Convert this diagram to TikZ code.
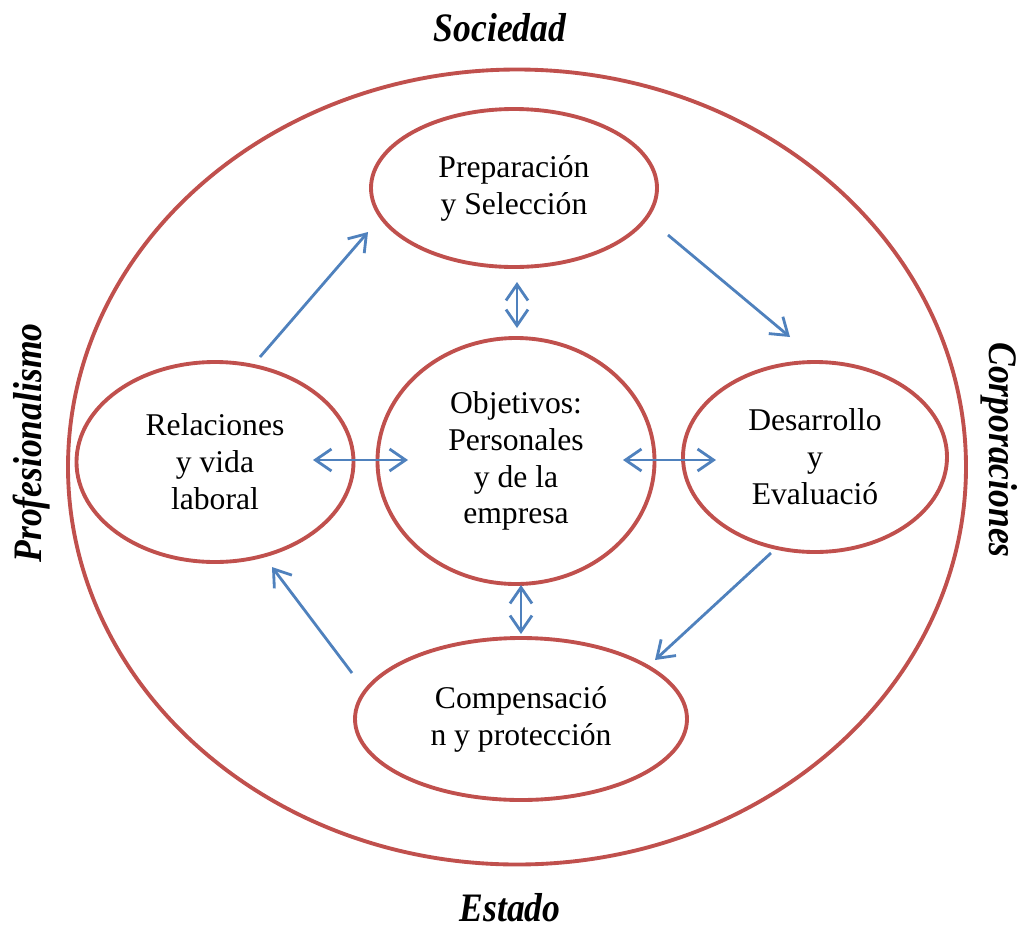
\documentclass[tikz,border=0pt]{standalone}
\usepackage{fontspec}
\setmainfont{Liberation Serif}
\newfontfamily\sidefont[FakeStretch=0.88]{Liberation Serif}
\usetikzlibrary{shapes.geometric,arrows.meta}
\definecolor{ringred}{RGB}{192,80,77}
\definecolor{flowblue}{RGB}{79,129,189}
\begin{document}
\begin{tikzpicture}[
    stage/.style={
        ellipse,
        draw=ringred,
        line width=2.2pt,
        inner sep=0pt,
        align=center,
        font=\fontsize{18}{21}\selectfont
    },
    flow/.style={
        -{Straight Barb[length=3.2mm,width=4.4mm,line width=1.6pt]},
        draw=flowblue,
        line width=1.6pt
    },
    both/.style={
        {Straight Barb[length=3.2mm,width=4.4mm,line width=1.6pt]}-{Straight Barb[length=3.2mm,width=4.4mm,line width=1.6pt]},
        draw=flowblue,
        line width=1.6pt
    },
    side/.style={
        font=\sidefont\bfseries\itshape\fontsize{23}{26}\selectfont
    }
]
\useasboundingbox (0,0) rectangle (20.34,-18.58);

% Outer ring
\node [stage, minimum width=17.96cm, minimum height=15.90cm] (outer) at (10.34,-9.34) {};

% Stages
\node [stage, minimum width=5.72cm, minimum height=3.16cm] (prep) at (10.28,-3.76) {Preparación\\y Selección};
\node [stage, minimum width=5.54cm, minimum height=4.92cm] (obj) at (10.32,-9.22) {Objetivos:\\Personales\\y de la\\empresa};
\node [stage, minimum width=5.54cm, minimum height=4.00cm] (rel) at (4.30,-9.24) {Relaciones\\y vida\\laboral};
\node [stage, minimum width=5.28cm, minimum height=3.80cm] (des) at (16.30,-9.14) {Desarrollo\\y\\Evaluació};
\node [stage, minimum width=6.64cm, minimum height=3.24cm] (comp) at (10.42,-14.38) {Compensació\\n y protección};

% Side labels
\node [side] (soc) at (10.00,-0.56) {Sociedad};
\node [side] (est) at (10.20,-18.16) {Estado};
\node [side, rotate=90] (prof) at (0.64,-8.86) {Profesionalismo};
\node [side, rotate=-90] (corp) at (19.98,-9.00) {Corporaciones};

% Arrow ends
\coordinate (relout) at (5.20,-7.14);
\coordinate (prepin) at (7.36,-4.64);
\coordinate (prepout) at (13.36,-4.70);
\coordinate (desin) at (15.80,-6.74);
\coordinate (desout) at (15.42,-11.06);
\coordinate (compin) at (13.10,-13.20);
\coordinate (compout) at (7.04,-13.46);
\coordinate (relin) at (5.44,-11.34);
\coordinate (up1) at (10.34,-5.64);
\coordinate (up2) at (10.34,-6.56);
\coordinate (left1) at (6.26,-9.20);
\coordinate (left2) at (8.16,-9.20);
\coordinate (right1) at (12.46,-9.20);
\coordinate (right2) at (14.32,-9.20);
\coordinate (down1) at (10.42,-11.70);
\coordinate (down2) at (10.42,-12.68);

% Cycle
\draw [flow] (relout) -- (prepin);
\draw [flow] (prepout) -- (desin);
\draw [flow] (desout) -- (compin);
\draw [flow] (compout) -- (relin);

% Links to the centre
\draw [both] (up1) -- (up2);
\draw [both] (left1) -- (left2);
\draw [both] (right1) -- (right2);
\draw [both] (down1) -- (down2);

\end{tikzpicture}
\end{document}
